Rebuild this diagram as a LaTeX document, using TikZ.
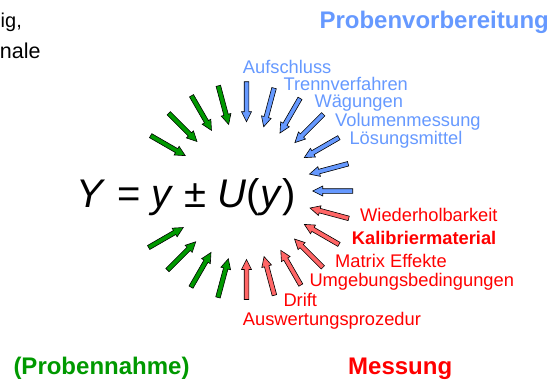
\documentclass[tikz,border=0pt]{standalone}
\usepackage{fontspec}
\setmainfont{Liberation Sans}

\definecolor{probblue}{RGB}{102,153,255}
\definecolor{messred}{RGB}{255,0,0}
\definecolor{arrowred}{RGB}{255,102,102}
\definecolor{probgreen}{RGB}{0,153,0}

\tikzset{
  blockarrow/.style={draw=black, line width=0.6pt, line join=miter},
  lbl/.style={anchor=base west, inner sep=0pt, font=\fontsize{18.3}{20}\selectfont},
  title/.style={anchor=base west, inner sep=0pt, font=\fontsize{24}{28}\selectfont\bfseries},
}

\begin{document}
\begin{tikzpicture}[x=1pt, y=-1pt]
    \useasboundingbox (0,0) rectangle (550,381);
    \clip (0,0) rectangle (550,381);

    % Textreste oben links
    \node[anchor=base west, inner sep=0pt, font=\fontsize{20}{24}\selectfont] (rest1) at (0.5,27) {ig,};
    \node[anchor=base east, inner sep=0pt, font=\fontsize{21.5}{24}\selectfont] (rest2) at (40.7,58) {nale};

    % Zentrum und Gleichung
    \coordinate (c) at (246.5,191);
    \node[anchor=base west, inner sep=0pt, font=\fontsize{40}{48}\selectfont] (eq) at (76.7,207.3)
        {\textit{Y} = \textit{y} ± \textit{U}(\textit{y})};

    % Pfeile: Probenvorbereitung
    \foreach \a/\r in {90/69.3, 75/66.5, 60/67, 45/68.5, 30/66.7, 15/65.2, 0/66.2}
        \draw[blockarrow, fill=probblue, shift={(c)}, rotate=\a]
            (\r+40,2.3) -- (\r+10,2.3) -- (\r+10,5) -- (\r,0) -- (\r+10,-5) -- (\r+10,-2.3) -- (\r+40,-2.3) -- cycle;

    % Pfeile: Messung
    \foreach \a/\r in {-15/65.8, -30/66.8, -45/68, -60/68.6, -75/67.9, -90/68.5}
        \draw[blockarrow, fill=arrowred, shift={(c)}, rotate=\a]
            (\r+40,2.3) -- (\r+10,2.3) -- (\r+10,5) -- (\r,0) -- (\r+10,-5) -- (\r+10,-2.3) -- (\r+40,-2.3) -- cycle;

    % Pfeile: Probennahme
    \foreach \a/\r in {-105/70.2, -120/71, -135/71.8, -150/73, 150/70.7, 135/70, 120/70, 105/68.9}
        \draw[blockarrow, fill=probgreen, shift={(c)}, rotate=\a]
            (\r+40,2.3) -- (\r+10,2.3) -- (\r+10,5) -- (\r,0) -- (\r+10,-5) -- (\r+10,-2.3) -- (\r+40,-2.3) -- cycle;

    % Beschriftungen blau
    \node[lbl, text=probblue] (aufschluss) at (242.7,73.3) {Aufschluss};
    \node[lbl, text=probblue] (trenn) at (283.3,90) {Trennverfahren};
    \node[lbl, text=probblue] (waegung) at (314.3,107.7) {Wägungen};
    \node[lbl, text=probblue] (volumen) at (335,126) {Volumenmessung};
    \node[lbl, text=probblue] (loesung) at (349.3,144) {Lösungsmittel};

    % Beschriftungen rot
    \node[lbl, text=messred] (wiederhol) at (360,221.7) {Wiederholbarkeit};
    \node[lbl, text=messred, font=\fontsize{18.3}{20}\selectfont\bfseries] (kalib) at (351.7,244.3) {Kalibriermaterial};
    \node[lbl, text=messred] (matrix) at (335,267.3) {Matrix Effekte};
    \node[lbl, text=messred] (umgebung) at (309.3,286) {Umgebungsbedingungen};
    \node[lbl, text=messred] (drift) at (283.3,306) {Drift};
    \node[lbl, text=messred] (auswert) at (242.7,325) {Auswertungsprozedur};

    % Titel
    \node[title, text=probblue] (vorb) at (319.3,28) {Probenvorbereitung};
    \node[title, text=probgreen] (nahme) at (13.3,374.3) {(Probennahme)};
    \node[title, text=messred] (messung) at (348,374.3) {Messung};
\end{tikzpicture}
\end{document}
